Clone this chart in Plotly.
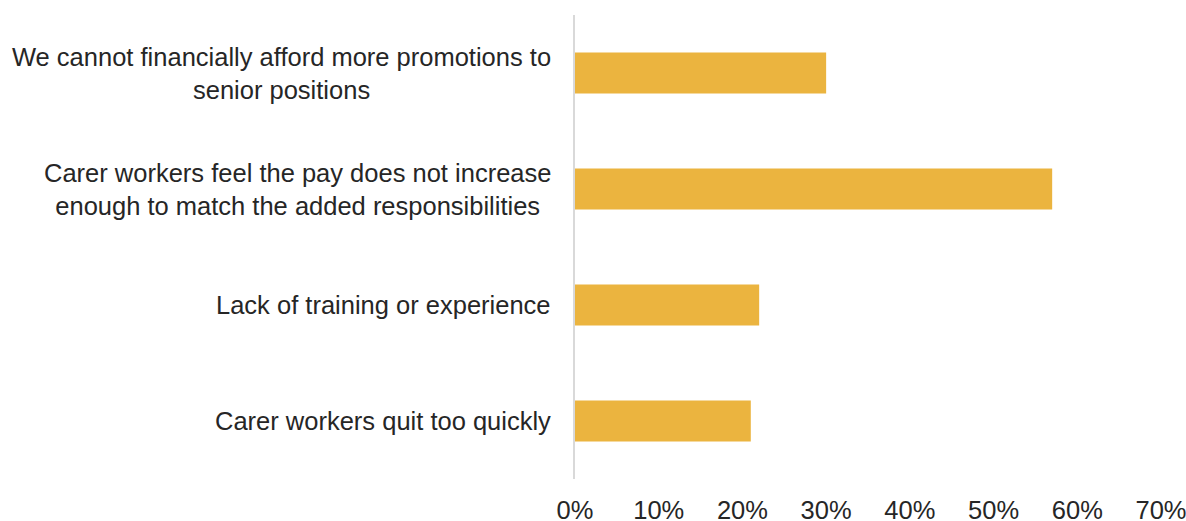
import plotly.graph_objects as go

# Survey responses: reasons carer workers are not promoted
categories = [
    "We cannot financially afford more promotions to<br>senior positions",
    "Carer workers feel the pay does not increase<br>enough to match the added responsibilities",
    "Lack of training or experience",
    "Carer workers quit too quickly",
]
shares = [0.30, 0.57, 0.22, 0.21]
x_ticks = [0.0, 0.1, 0.2, 0.3, 0.4, 0.5, 0.6, 0.7]
x_tick_labels = ["0%", "10%", "20%", "30%", "40%", "50%", "60%", "70%"]

BAR_COLOR = "#EBB43F"
TEXT_COLOR = "#262626"
FONT = "Liberation Sans, Arial, sans-serif"
FONT_SIZE = 25.5

fig = go.Figure(
    go.Bar(
        x=shares,
        y=categories,
        orientation="h",
        marker=dict(color=BAR_COLOR, line=dict(width=0)),
        hoverinfo="skip",
    )
)

# Category labels as centred multi-line annotations left of the axis
for cat in categories:
    fig.add_annotation(
        x=0, xref="paper", xanchor="right", xshift=-22,
        y=cat, yref="y", yanchor="middle",
        text=cat, showarrow=False, align="center",
        font=dict(family=FONT, size=FONT_SIZE, color=TEXT_COLOR),
    )

fig.update_layout(
    width=1186,
    height=521,
    margin=dict(l=575, r=25, t=15, b=42),
    paper_bgcolor="white",
    plot_bgcolor="white",
    bargap=0.645,
    showlegend=False,
    font=dict(family=FONT, size=FONT_SIZE, color=TEXT_COLOR),
)
fig.update_xaxes(
    range=[0, 0.7],
    tickvals=x_ticks,
    ticktext=x_tick_labels,
    showgrid=False,
    zeroline=False,
    showline=False,
    ticks="",
    ticklabelstandoff=13,
    ticklabeloverflow="allow",
    automargin=False,
    tickfont=dict(family=FONT, size=FONT_SIZE, color=TEXT_COLOR),
)
fig.update_yaxes(
    categoryorder="array",
    categoryarray=categories,
    autorange="reversed",
    showticklabels=False,
    showgrid=False,
    zeroline=False,
    showline=True,
    linecolor="#D9D9D9",
    linewidth=2,
    ticks="",
    automargin=False,
)

fig.write_html("out.html")
